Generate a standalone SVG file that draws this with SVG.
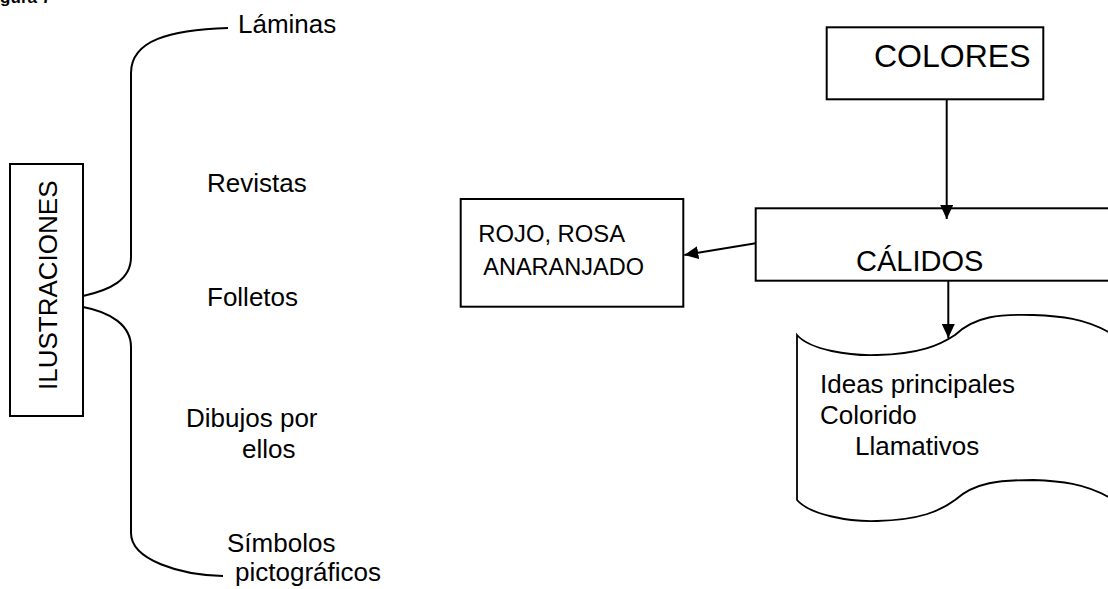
<svg xmlns="http://www.w3.org/2000/svg" width="1108" height="589" viewBox="0 0 1108 589">
<style>
text{font-family:"Liberation Sans",Arial,sans-serif;fill:#000}
.box{fill:#fff;stroke:#000;stroke-width:2}
.ln{fill:none;stroke:#000;stroke-width:2}
.t26{font-size:26px}
</style>
<defs>
<marker id="ah" viewBox="0 0 14 13" refX="14" refY="6.5" markerWidth="14" markerHeight="13" markerUnits="userSpaceOnUse" orient="auto">
<path d="M0,0 L14,6.5 L0,13 Z" fill="#000"/>
</marker>
</defs>
<rect width="1108" height="589" fill="#fff"/>
<text x="-15" y="3" font-size="17" font-weight="bold">Figura 7</text>

<g id="ilustraciones">
<rect class="box" x="10" y="164" width="73" height="252"/>
<text transform="translate(57,390) rotate(-90)" font-size="26">ILUSTRACIONES</text>
</g>
<g id="laminas"><text class="t26" x="238" y="33">Láminas</text></g>
<g id="revistas"><text class="t26" x="207" y="192">Revistas</text></g>
<g id="folletos"><text class="t26" x="207" y="306">Folletos</text></g>
<g id="dibujos"><text class="t26" x="186" y="427">Dibujos por</text><text class="t26" x="242" y="458">ellos</text></g>
<g id="simbolos"><text class="t26" x="227" y="552">Símbolos</text><text class="t26" x="235" y="581">pictográficos</text></g>

<g id="colores">
<rect class="box" x="826.7" y="27.3" width="216.6" height="72"/>
<text x="874" y="66.7" font-size="32">COLORES</text>
</g>
<g id="calidos">
<rect class="box" x="755.7" y="208.3" width="370" height="72.4"/>
<text x="856" y="270.7" font-size="29">CÁLIDOS</text>
</g>
<g id="rojo">
<rect class="box" x="460.7" y="199" width="222.6" height="107.7"/>
<text x="478.3" y="242.3" font-size="23.8">ROJO, ROSA</text>
<text x="483.3" y="275" font-size="23.5">ANARANJADO</text>
</g>
<g id="documento">
<path fill="#fff" stroke="#000" stroke-width="1.8" d="M797,335 C810,350 850,356 877,355 C920,354 940,345 955,335 C975,316 1000,314 1033,315 C1060,316 1085,318 1112,334 L1112,499 C1085,483 1060,481 1033,480 C1000,480 975,482 955,500 C940,511 920,520 877,521 C850,522 810,515 797,500 Z"/>
<text class="t26" x="820" y="393">Ideas principales</text>
<text class="t26" x="820" y="424">Colorido</text>
<text class="t26" x="855" y="455">Llamativos</text>
</g>

<g id="connectors">
<path class="ln" d="M131,257 L131,73 C131,40 170,30 228,28"/>
<path class="ln" d="M131,257 C131,280 110,290 83,296"/>
<path class="ln" d="M83,307 C110,312 131,325 131,347 L131,533 C131,560 180,575 223,576"/>
<line class="ln" x1="946.7" y1="99" x2="946.7" y2="219" marker-end="url(#ah)"/>
<line class="ln" x1="948.3" y1="281" x2="948.3" y2="338" marker-end="url(#ah)"/>
<line class="ln" x1="755.7" y1="243.3" x2="684.3" y2="255" marker-end="url(#ah)"/>
</g>
</svg>
